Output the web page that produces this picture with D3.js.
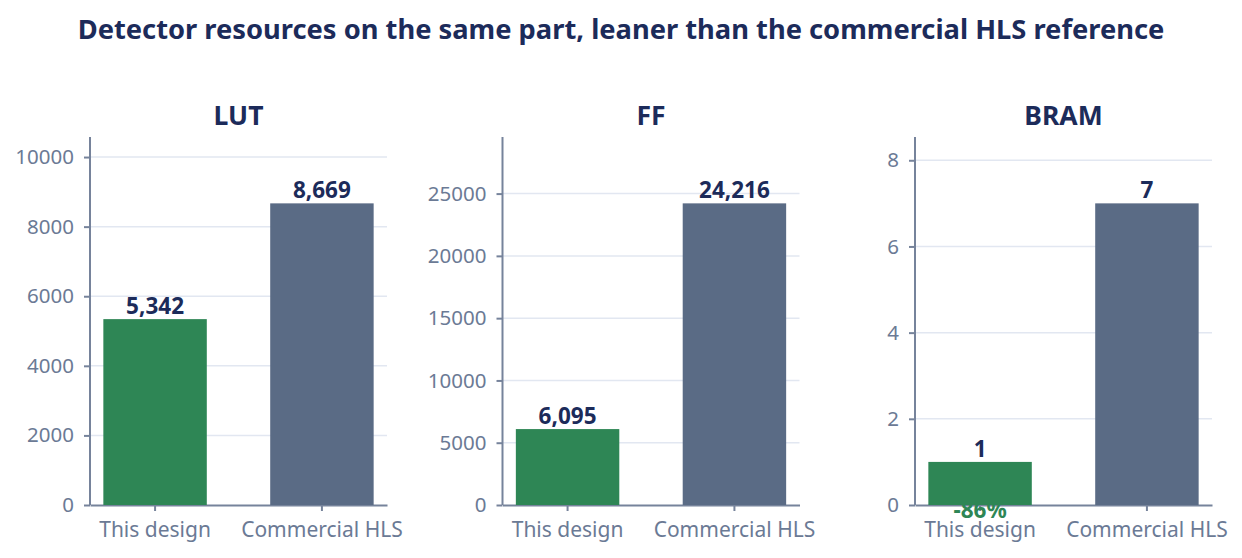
<!DOCTYPE html>
<html>
<head>
<meta charset="utf-8">
<script src="https://cdn.jsdelivr.net/npm/d3@7"></script>
<style>
  html, body { margin: 0; padding: 0; background: #ffffff; }
  svg { display: block; font-family: "Noto Sans", sans-serif; }
</style>
</head>
<body>
<svg id="chart" width="1242" height="558"></svg>
<script>
const chartTitle = "Detector resources on the same part, leaner than the commercial HLS reference";
const metrics = ["LUT", "FF", "BRAM"];
const designs = ["This design", "Commercial HLS"];
const thisDesign = [5342, 6095, 1];
const commercialHLS = [8669, 24216, 7];

const W = 1242, H = 558;
const FONT = '"Noto Sans", sans-serif';
const svg = d3.select("#chart");
const navy = "#1c2b5a", green = "#2e8655", slate = "#5a6b85";
const tickText = "#6b7a95", axisCol = "#76839b", gridCol = "#e2e7f1";

svg.append("text")
  .attr("x", W / 2).attr("y", 39)
  .attr("text-anchor", "middle")
  .attr("font-size", 27.3).attr("font-weight", 700)
  .attr("fill", navy)
  .text(chartTitle);

const panelLeft = [90, 502.5, 915];
const panelWidth = 297;
const yTop = 137, yBottom = 505;

metrics.forEach((m, i) => {
  const vals = [thisDesign[i], commercialHLS[i]];
  const x0 = panelLeft[i];
  const g = svg.append("g");

  const x = d3.scaleBand().domain(designs)
    .range([x0, x0 + panelWidth]).paddingInner(0.38).paddingOuter(0.08);
  const y = d3.scaleLinear().domain([0, d3.max(vals) * 1.22]).range([yBottom, yTop]);
  const ticks = y.ticks(5);

  // gridlines
  g.append("g").selectAll("line").data(ticks.filter(t => t > 0)).join("line")
    .attr("x1", x0).attr("x2", x0 + panelWidth)
    .attr("y1", d => y(d)).attr("y2", d => y(d))
    .attr("stroke", gridCol).attr("stroke-width", 1.5);

  // panel title
  g.append("text")
    .attr("x", x0 + panelWidth / 2).attr("y", 125)
    .attr("text-anchor", "middle")
    .attr("font-size", 26.5).attr("font-weight", 700).attr("fill", navy)
    .text(m);

  // y axis
  const ya = g.append("g").attr("transform", `translate(${x0},0)`)
    .call(d3.axisLeft(y).tickValues(ticks).tickFormat(d3.format("d")).tickSize(6).tickSizeOuter(0).tickPadding(10));
  ya.select(".domain").attr("stroke", axisCol).attr("stroke-width", 2).attr("d", `M0,${yTop}V${yBottom}`);
  ya.selectAll(".tick line").attr("stroke", axisCol).attr("stroke-width", 2);
  ya.selectAll(".tick text").attr("fill", tickText).attr("font-size", 20.5).attr("font-family", FONT);

  // x axis
  const xa = g.append("g").attr("transform", `translate(0,${yBottom})`)
    .call(d3.axisBottom(x).tickSize(6).tickSizeOuter(0).tickPadding(11));
  xa.select(".domain").attr("stroke", axisCol).attr("stroke-width", 2);
  xa.selectAll(".tick line").attr("stroke", axisCol).attr("stroke-width", 2);
  xa.selectAll(".tick text").attr("fill", tickText).attr("font-size", 21).attr("font-family", FONT);

  // change label (green, drawn beneath the bars so only overflow shows)
  const pct = Math.round((vals[0] - vals[1]) / vals[1] * 100);
  g.append("text")
    .attr("x", x(designs[0]) + x.bandwidth() / 2)
    .attr("y", y(vals[0]) + 56)
    .attr("text-anchor", "middle")
    .attr("font-size", 22.5).attr("font-weight", 700).attr("fill", green)
    .text(`${pct}%`);

  // bars
  g.append("g").selectAll("rect").data(designs).join("rect")
    .attr("x", d => x(d)).attr("width", x.bandwidth())
    .attr("y", (d, j) => y(vals[j]))
    .attr("height", (d, j) => yBottom - y(vals[j]))
    .attr("fill", (d, j) => j === 0 ? green : slate);

  // value labels
  g.append("g").selectAll("text").data(designs).join("text")
    .attr("x", d => x(d) + x.bandwidth() / 2)
    .attr("y", (d, j) => y(vals[j]) - 5)
    .attr("text-anchor", "middle")
    .attr("font-size", 22.5).attr("font-weight", 700).attr("fill", navy)
    .text((d, j) => d3.format(",")(vals[j]));
});
</script>
</body>
</html>
